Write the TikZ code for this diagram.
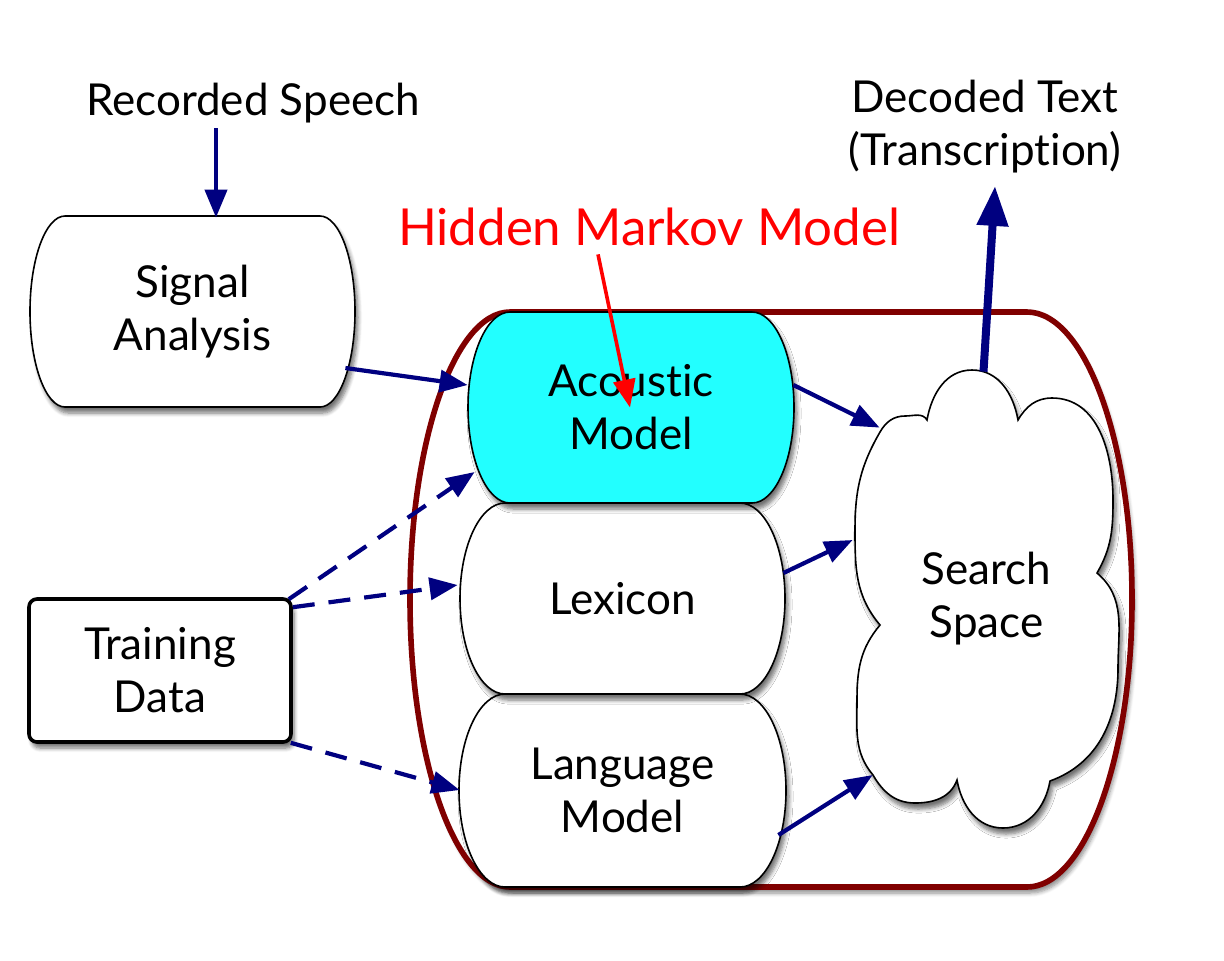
\documentclass[tikz,border=0pt]{standalone}
\usepackage{fontspec}
\setmainfont{Lato}[Ligatures={NoCommon}]
\usetikzlibrary{arrows.meta,calc,shadows.blur}
\definecolor{navyc}{RGB}{0,0,128}
\definecolor{maroonc}{RGB}{128,0,0}
\definecolor{cyanc}{RGB}{34,255,255}
\definecolor{redc}{RGB}{255,0,0}
\newcommand\stadium[6]{%
  \draw[#6] (#1+#5,-#2) -- (#3-#5,-#2)
    arc[start angle=90,end angle=-90,x radius=#5,y radius={(#4-#2)/2}]
    -- (#1+#5,-#4)
    arc[start angle=270,end angle=90,x radius=#5,y radius={(#4-#2)/2}] -- cycle;}
\tikzset{
  lbl/.style={font=\fontsize{22}{26.5}\selectfont, align=center, inner sep=0pt},
  hmmlbl/.style={font=\fontsize{25.5}{30}\selectfont, text=redc, inner sep=0pt},
  shp/.style={draw=black, line width=0.8pt, fill=white,
    blur shadow={shadow xshift=1.5pt, shadow yshift=-3pt, shadow blur steps=6, shadow opacity=55}},
  cont/.style={draw=maroonc, line width=2.8pt, fill=white,
    blur shadow={shadow xshift=1.5pt, shadow yshift=-3pt, shadow blur steps=6, shadow opacity=45}},
  flow/.style={draw=navyc, line width=2.1pt, -{Triangle[length=14pt,width=11pt]}},
  trainflow/.style={flow, dash pattern=on 11pt off 7pt},
  outflow/.style={draw=navyc, line width=4pt, -{Triangle[length=20pt,width=15pt]}},
  hmmflow/.style={draw=redc, line width=1.8pt, -{Triangle[length=14pt,width=11pt]}},
}
\begin{document}
\begin{tikzpicture}[x=0.5pt,y=0.5pt]
\useasboundingbox (0,0) rectangle (1224,-960);
% container
\draw[cont] (510,-312) -- (1027,-312)
  arc[start angle=90,end angle=-90,x radius=105,y radius=287.5]
  -- (510,-887)
  arc[start angle=270,end angle=90,x radius=100,y radius=287.5] -- cycle;
% signal analysis shape
\stadium{30}{216}{355}{407}{35}{shp}
% model shapes
\stadium{459}{694}{786}{887}{46}{shp}
\stadium{460}{503}{785}{694}{45}{shp}
\stadium{468}{312}{794}{503}{42}{shp, fill=cyanc}
% cloud
\draw[shp] (880,-432)
  to[out=60,in=180] (905,-416) to[out=0,in=120] (927,-420)
  to[out=80,in=180] (972,-370) to[out=0,in=100] (1018,-420)
  to[out=60,in=180] (1052,-398) to[out=0,in=90] (1113,-500) to[out=-90,in=60] (1097,-573)
  to[out=-40,in=90] (1118,-668) to[out=-90,in=20] (1050,-781)
  to[out=-100,in=0] (1003,-828) to[out=180,in=-80] (957,-780)
  to[out=-110,in=0] (915,-803) to[out=180,in=-60] (873,-775)
  to[out=130,in=-90] (857,-700) to[out=90,in=-130] (880,-625)
  to[out=130,in=-90] (855,-530) to[out=90,in=-120] (880,-432) -- cycle;
% nodes (text)
\node[lbl, minimum width=162.5pt, minimum height=95.5pt] (sig) at (192.5,-311.5) {Signal\\Analysis};
\node[lbl, minimum width=163pt, minimum height=95.5pt] (ac) at (631,-407.5) {Acoustic\\Model};
\node[lbl, minimum width=162.5pt, minimum height=95.5pt] (lex) at (622.5,-598.5) {Lexicon};
\node[lbl, minimum width=163.5pt, minimum height=96.5pt] (lang) at (622.5,-790.5) {Language\\Model};
\node[lbl, minimum width=131.5pt, minimum height=229pt] (cloud) at (986.5,-599) {Search\\Space};
\node[lbl, draw=black, line width=1.8pt, rounded corners=4pt, fill=white,
  minimum width=131pt, minimum height=71.5pt,
  blur shadow={shadow xshift=1.5pt, shadow yshift=-3pt, shadow blur steps=6, shadow opacity=55}]
  (train) at (160,-670.5) {Training\\Data};
\node[lbl] (rec) at (253,-103) {Recorded Speech};
\node[lbl] (dec) at (985,-127) {Decoded Text\\(Transcription)};
\node[hmmlbl] (hmm) at (649,-227) {Hidden Markov Model};
% connectors
\draw[flow] ($(rec.south)+(-37,-5)$) -- ($(sig.north)+(23.5,-2)$);
\draw[flow] ($(sig.east)+(-10,-56.5)$) -- ($(ac.west)+(0,22.5)$);
\draw[flow] ($(ac.east)+(-1,22.5)$) -- ($(cloud.north west)+(25,-58)$);
\draw[flow] ($(lex.east)+(-2,25.5)$) -- ($(cloud.west)+(-2,59)$);
\draw[flow] ($(lang.east)+(-8,-44.5)$) -- ($(cloud.west)+(18,-176)$);
\draw[trainflow] ($(train.north east)+(-4,-2)$) -- ($(ac.west)+(7,-64.5)$);
\draw[trainflow] ($(train.north east)+(0,-10)$) -- ($(lex.west)+(-2,13.5)$);
\draw[trainflow] ($(train.south east)+(-2,1)$) -- ($(lang.west)+(1,0.5)$);
\draw[outflow] ($(cloud.north)+(-3,-2)$) -- ($(dec.south)+(10,-12)$);
\draw[hmmflow] ($(hmm.south)+(-51,-8)$) -- ($(ac.center)+(-1,0)$);
\end{tikzpicture}
\end{document}
